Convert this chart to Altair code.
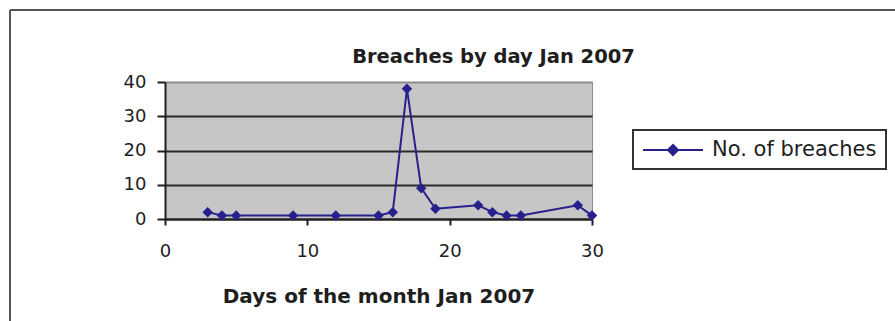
import altair as alt
import pandas as pd

# Breaches recorded per day, January 2007
days = [3, 4, 5, 9, 12, 15, 16, 17, 18, 19, 22, 23, 24, 25, 29, 30]
breaches = [2, 1, 1, 1, 1, 1, 2, 38, 9, 3, 4, 2, 1, 1, 4, 1]
series_name = "No. of breaches"
x_ticks = [0, 10, 20, 30]
y_ticks = [0, 10, 20, 30, 40]

df = pd.DataFrame({"day": days, "breaches": breaches, "series": series_name})

NAVY = "#28208c"
INK = "#1e1e1e"
FONT = "DejaVu Sans"

# legend glyph: short line with a diamond on it
legend_symbol = "M-1,0H5M1.5,0L2,-0.5L2.5,0L2,0.5Z"

one_row = pd.DataFrame({"k": [0]})

frame_top = alt.Chart(one_row).mark_rule(color="#555555", strokeWidth=2, clip=False).encode(
    x=alt.value(-155), x2=alt.value(730), y=alt.value(-72)
)
frame_left = alt.Chart(one_row).mark_rule(color="#555555", strokeWidth=2, clip=False).encode(
    x=alt.value(-155), y=alt.value(-72), y2=alt.value(239)
)

line = alt.Chart(df).mark_line(
    strokeWidth=2,
    point=alt.OverlayMarkDef(shape="diamond", size=110, filled=True, opacity=1),
).encode(
    x=alt.X(
        "day:Q",
        scale=alt.Scale(domain=[0, 30], nice=False),
        axis=alt.Axis(
            values=x_ticks,
            title="Days of the month Jan 2007",
            grid=False,
            labelFlush=False,
            labelFont=FONT,
            labelFontSize=18,
            labelColor=INK,
            labelPadding=17,
            tickSize=6,
            tickWidth=2,
            tickColor=INK,
            domainColor=INK,
            domainWidth=2,
            titleFont=FONT,
            titleFontSize=20,
            titleFontWeight="bold",
            titleColor=INK,
            titlePadding=26,
        ),
    ),
    y=alt.Y(
        "breaches:Q",
        scale=alt.Scale(domain=[0, 40], nice=False),
        axis=alt.Axis(
            values=y_ticks,
            title=None,
            grid=True,
            gridColor={"condition": {"test": "datum.value === 40", "value": "#8a8a8a"}, "value": "#2a2a2a"},
            gridWidth=2,
            labelFlush=False,
            labelFont=FONT,
            labelFontSize=18,
            labelColor=INK,
            labelPadding=11,
            tickSize=8,
            tickWidth=2,
            tickColor=INK,
            domainColor=INK,
            domainWidth=2,
        ),
    ),
    color=alt.Color(
        "series:N",
        scale=alt.Scale(range=[NAVY]),
        legend=alt.Legend(
            title=None,
            orient="none",
            legendX=468,
            legendY=48,
            padding=9,
            strokeColor="#333333",
            fillColor="white",
            symbolType=legend_symbol,
            symbolSize=400,
            symbolStrokeWidth=2,
            symbolFillColor=NAVY,
            labelFont=FONT,
            labelFontSize=21,
            labelColor=INK,
            labelOffset=48,
            labelLimit=400,
        ),
    ),
)

chart = alt.layer(frame_top, frame_left, line).properties(
    width=427,
    height=137,
    title=alt.TitleParams(
        "Breaches by day Jan 2007",
        font=FONT,
        fontSize=19.5,
        fontWeight="bold",
        color=INK,
        anchor="middle",
        frame="group",
        dx=115,
        dy=62,
    ),
    autosize=alt.AutoSizeParams(type="none"),
    padding={"left": 165, "top": 82, "right": 303, "bottom": 102},
    background="white",
).configure_view(
    fill="#c6c6c6", stroke="#8f8f8f", strokeWidth=1
).configure_legend(strokeWidth=2)

chart.save("out.html", embed_options={"renderer": "svg", "actions": False})
